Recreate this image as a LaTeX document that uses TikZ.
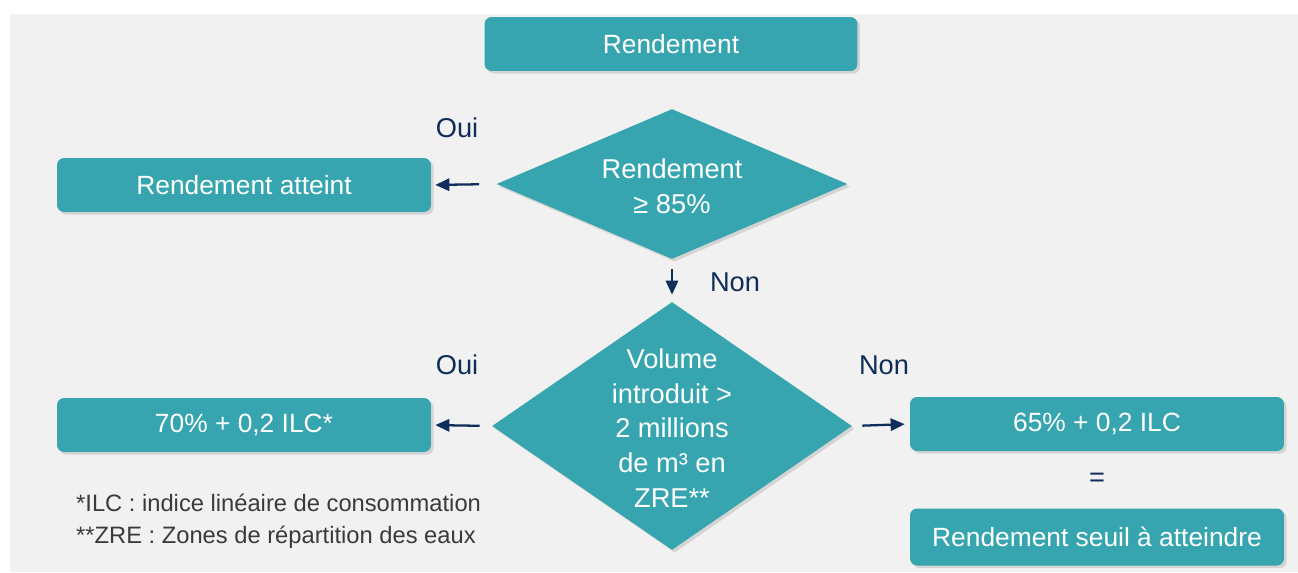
\documentclass[tikz,border=0pt]{standalone}
\usepackage{fontspec}
\setmainfont{Liberation Sans}
\usetikzlibrary{shapes.geometric,shadows,arrows.meta}

\definecolor{flowteal}{HTML}{36A5AF}
\definecolor{flownavy}{HTML}{0F2D5A}
\definecolor{flowback}{HTML}{F1F1F1}
\definecolor{flownote}{HTML}{3A3A3A}

\tikzset{
  box/.style={fill=flowteal, rounded corners=4pt, text=white,
    minimum width=7.48cm, minimum height=1.08cm, inner sep=0pt,
    font=\fontsize{15}{18}\selectfont,
    drop shadow={shadow xshift=1.5pt, shadow yshift=-1.5pt, opacity=.25}},
  decision/.style={diamond, fill=flowteal, inner sep=0pt,
    drop shadow={shadow xshift=1.5pt, shadow yshift=-1.5pt, opacity=.25}},
  dtext/.style={text=white, align=center, font=\fontsize{15.5}{19.8}\selectfont},
  answer/.style={text=flownavy, font=\fontsize{15.5}{18}\selectfont},
  note/.style={text=flownote, anchor=west, font=\fontsize{13.5}{16}\selectfont},
  arr/.style={flownavy, line width=1.3pt, -{Triangle[length=8pt,width=7pt]}}
}

\begin{document}
\begin{tikzpicture}[x=0.02cm, y=-0.02cm]
\useasboundingbox (0,0) rectangle (1298,572);
\fill[flowback] (10,14) rectangle (1298,572);

% boxes
\node[box, minimum width=7.46cm] (top) at (671,44) {Rendement};
\node[box] (atteint) at (244,185) {Rendement atteint};
\node[box] (seventy) at (244,425) {70\% + 0,2 ILC*};
\node[box] (sixtyfive) at (1097,424) {65\% + 0,2 ILC};
\node[box, minimum height=1.14cm] (seuil) at (1097,537) {Rendement seuil à atteindre};

% decisions
\node[decision, minimum width=7.02cm, minimum height=3.0cm] (rdt) at (672,184) {};
\node[dtext] at ([yshift=-0.04cm]rdt.center) {Rendement\\≥ 85\%};
\node[decision, minimum width=7.2cm, minimum height=4.96cm] (vol) at (672,426) {};
\node[dtext] at ([yshift=-0.04cm]vol.center) {Volume\\introduit >\\2 millions\\de m³ en\\ZRE**};

% answers
\node[answer] (oui1) at (457,128) {Oui};
\node[answer] (non1) at (735,282) {Non};
\node[answer] (oui2) at (457,365) {Oui};
\node[answer] (non2) at (884,365) {Non};
\node[answer] (equal) at (1097,480) {=};

% arrows
\draw[arr, shorten <=0.34cm, shorten >=0.08cm] (rdt.west) -- (atteint.east);
\draw[arr, shorten <=0.2cm, shorten >=0.14cm] (rdt.south) -- (vol.north);
\draw[arr, shorten <=0.24cm, shorten >=0.08cm] (vol.west) -- (seventy.east);
\draw[arr, shorten <=0.2cm, shorten >=0.1cm] (vol.east) -- (sixtyfive.west);

% notes
\node[note] (ilc) at (70,503) {*ILC : indice linéaire de consommation};
\node[note] (zre) at (70,537) {**ZRE : Zones de répartition des eaux};
\end{tikzpicture}
\end{document}
